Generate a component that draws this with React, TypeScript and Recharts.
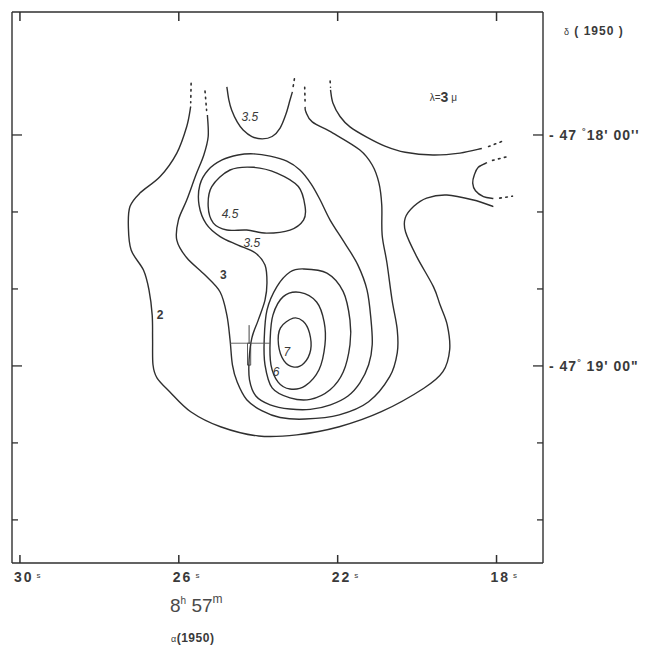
import React from "react";
import {
  ComposedChart,
  Customized,
  Line,
  ReferenceArea,
  ReferenceDot,
  ReferenceLine,
  XAxis,
  YAxis,
} from "recharts";

/**
 * 3 micron contour map. RA seconds past 8h57m on x (reversed), declination
 * on y as arcseconds past -47°17' (so 60 = -47°18'00", growing southwards).
 */
type Pt = { ra: number; dec: number };

const raTicks = [18, 22, 26, 30];
const decTicks = [60, 80, 100, 120, 140, 160];
const raDomain = [16.83, 30.2];
const decDomain = [28.05, 171.2];

// level 2, the outermost open contour
const contour2: Pt[] = [
  { ra: 25.7, dec: 52.6 }, { ra: 25.8, dec: 57.8 }, { ra: 26.05, dec: 64.7 },
  { ra: 26.47, dec: 70.8 }, { ra: 26.98, dec: 75.1 }, { ra: 27.23, dec: 78.6 },
  { ra: 27.27, dec: 83.8 }, { ra: 27.2, dec: 89.9 }, { ra: 26.89, dec: 95.1 },
  { ra: 26.75, dec: 100.3 }, { ra: 26.67, dec: 106.8 }, { ra: 26.66, dec: 113.2 },
  { ra: 26.65, dec: 119.7 }, { ra: 26.55, dec: 123.1 }, { ra: 26.23, dec: 126.7 },
  { ra: 25.7, dec: 131.9 }, { ra: 24.95, dec: 135.8 }, { ra: 23.99, dec: 138.2 },
  { ra: 23.03, dec: 137.9 }, { ra: 21.96, dec: 135.8 }, { ra: 20.9, dec: 131.9 },
  { ra: 19.83, dec: 125.8 }, { ra: 19.35, dec: 121.5 }, { ra: 19.18, dec: 115.8 },
  { ra: 19.24, dec: 109.4 }, { ra: 19.42, dec: 104.2 }, { ra: 19.59, dec: 99.4 },
  { ra: 20.01, dec: 91.6 }, { ra: 20.29, dec: 85.2 }, { ra: 20.3, dec: 81.6 },
  { ra: 20.09, dec: 78.6 }, { ra: 19.76, dec: 76.4 }, { ra: 19.25, dec: 75.6 },
  { ra: 18.58, dec: 76.9 }, { ra: 18.08, dec: 78.6 },
];
const contour2North: Pt[] = [
  { ra: 22.18, dec: 48.3 }, { ra: 22.12, dec: 51.7 }, { ra: 21.94, dec: 55.2 },
  { ra: 21.69, dec: 57.9 }, { ra: 21.28, dec: 60.5 }, { ra: 20.81, dec: 62.9 },
  { ra: 20.3, dec: 64.5 }, { ra: 19.6, dec: 65.2 }, { ra: 18.92, dec: 64.7 },
  { ra: 18.37, dec: 63.5 },
];
const contourEdge: Pt[] = [
  { ra: 18.24, dec: 67.2 }, { ra: 18.46, dec: 68.4 }, { ra: 18.56, dec: 70.4 },
  { ra: 18.6, dec: 72.5 }, { ra: 18.53, dec: 74.5 }, { ra: 18.33, dec: 76.0 },
  { ra: 18.08, dec: 76.5 },
];

// level 3
const contour3: Pt[] = [
  { ra: 25.28, dec: 54.8 }, { ra: 25.26, dec: 60.4 }, { ra: 25.37, dec: 65.2 },
  { ra: 25.57, dec: 70.4 }, { ra: 25.8, dec: 76.9 }, { ra: 26.01, dec: 82.1 },
  { ra: 26.05, dec: 87.3 }, { ra: 25.8, dec: 91.9 }, { ra: 25.34, dec: 96.4 },
  { ra: 24.96, dec: 100.8 }, { ra: 24.79, dec: 106.8 }, { ra: 24.71, dec: 113.2 },
  { ra: 24.65, dec: 119.7 }, { ra: 24.53, dec: 124.2 }, { ra: 24.29, dec: 128.8 },
  { ra: 23.9, dec: 131.7 }, { ra: 23.45, dec: 133.4 }, { ra: 22.82, dec: 133.8 },
  { ra: 21.96, dec: 132.7 }, { ra: 21.22, dec: 129.3 }, { ra: 20.69, dec: 122.8 },
  { ra: 20.5, dec: 116.6 }, { ra: 20.5, dec: 110.6 }, { ra: 20.63, dec: 102.9 },
  { ra: 20.76, dec: 93.2 }, { ra: 20.88, dec: 86.0 }, { ra: 20.89, dec: 78.2 },
  { ra: 20.96, dec: 72.5 }, { ra: 21.13, dec: 67.8 }, { ra: 21.44, dec: 63.9 },
  { ra: 22.12, dec: 59.5 }, { ra: 22.64, dec: 56.6 }, { ra: 22.8, dec: 54.0 },
  { ra: 22.82, dec: 52.7 },
];

// level 3.5: the northern lobe and the big loop round both peaks
const contour35North: Pt[] = [
  { ra: 24.79, dec: 47.5 }, { ra: 24.74, dec: 50.9 }, { ra: 24.67, dec: 53.5 },
  { ra: 24.53, dec: 56.6 }, { ra: 24.38, dec: 58.7 }, { ra: 24.16, dec: 60.4 },
  { ra: 23.9, dec: 61.0 }, { ra: 23.65, dec: 60.4 }, { ra: 23.45, dec: 58.2 },
  { ra: 23.3, dec: 54.5 }, { ra: 23.2, dec: 50.9 }, { ra: 23.14, dec: 48.8 },
];
const contour35: Pt[] = [
  { ra: 24.12, dec: 64.9 }, { ra: 23.7, dec: 65.5 }, { ra: 23.28, dec: 66.8 },
  { ra: 22.95, dec: 69.1 }, { ra: 22.67, dec: 72.7 }, { ra: 22.44, dec: 76.9 },
  { ra: 22.19, dec: 82.1 }, { ra: 21.81, dec: 88.3 }, { ra: 21.49, dec: 93.8 },
  { ra: 21.26, dec: 100.3 }, { ra: 21.16, dec: 108.1 }, { ra: 21.13, dec: 114.5 },
  { ra: 21.22, dec: 119.7 }, { ra: 21.44, dec: 124.4 }, { ra: 21.74, dec: 127.8 },
  { ra: 22.18, dec: 130.1 }, { ra: 22.69, dec: 131.3 }, { ra: 23.2, dec: 131.2 },
  { ra: 23.7, dec: 130.1 }, { ra: 24.06, dec: 127.8 }, { ra: 24.22, dec: 123.6 },
  { ra: 24.23, dec: 118.4 }, { ra: 24.16, dec: 112.7 }, { ra: 24.0, dec: 108.1 },
  { ra: 23.83, dec: 102.9 }, { ra: 23.78, dec: 98.4 }, { ra: 23.83, dec: 93.8 },
  { ra: 24.08, dec: 90.6 }, { ra: 24.51, dec: 88.6 }, { ra: 24.96, dec: 86.4 },
  { ra: 25.31, dec: 83.1 }, { ra: 25.49, dec: 78.2 }, { ra: 25.47, dec: 73.0 },
  { ra: 25.26, dec: 69.1 }, { ra: 24.91, dec: 66.5 }, { ra: 24.51, dec: 65.2 },
];

// level 4.5, the northern peak
const contour45: Pt[] = [
  { ra: 25.17, dec: 73.4 }, { ra: 24.71, dec: 69.1 }, { ra: 24.12, dec: 68.4 },
  { ra: 23.53, dec: 69.9 }, { ra: 22.99, dec: 73.4 }, { ra: 22.82, dec: 78.6 },
  { ra: 22.86, dec: 82.1 }, { ra: 23.2, dec: 84.7 }, { ra: 23.79, dec: 85.5 },
  { ra: 24.29, dec: 84.7 }, { ra: 24.79, dec: 84.7 }, { ra: 25.13, dec: 82.9 },
  { ra: 25.26, dec: 78.6 },
];

// levels 5, 6 and 7 round the southern peak
const contour5: Pt[] = [
  { ra: 23.53, dec: 99.4 }, { ra: 23.2, dec: 95.6 }, { ra: 22.86, dec: 94.8 },
  { ra: 22.27, dec: 95.9 }, { ra: 21.86, dec: 100.7 }, { ra: 21.69, dec: 108.1 },
  { ra: 21.69, dec: 114.5 }, { ra: 21.86, dec: 121.6 }, { ra: 22.19, dec: 126.2 },
  { ra: 22.69, dec: 128.7 }, { ra: 23.2, dec: 128.3 }, { ra: 23.65, dec: 125.7 },
  { ra: 23.83, dec: 119.7 }, { ra: 23.85, dec: 113.2 }, { ra: 23.78, dec: 105.5 },
];
const contour6: Pt[] = [
  { ra: 23.37, dec: 102.0 }, { ra: 22.95, dec: 100.9 }, { ra: 22.53, dec: 103.4 },
  { ra: 22.34, dec: 108.6 }, { ra: 22.32, dec: 114.5 }, { ra: 22.47, dec: 121.0 },
  { ra: 22.82, dec: 125.2 }, { ra: 23.2, dec: 126.0 }, { ra: 23.5, dec: 124.2 },
  { ra: 23.68, dec: 119.7 }, { ra: 23.7, dec: 113.2 }, { ra: 23.63, dec: 106.8 },
];
const contour7: Pt[] = [
  { ra: 23.12, dec: 107.6 }, { ra: 22.87, dec: 108.4 }, { ra: 22.71, dec: 111.4 },
  { ra: 22.68, dec: 115.8 }, { ra: 22.85, dec: 119.3 }, { ra: 23.1, dec: 120.3 },
  { ra: 23.35, dec: 118.7 }, { ra: 23.49, dec: 114.5 }, { ra: 23.44, dec: 110.1 },
];

// dotted continuations where the map runs out
const dotted: Pt[][] = [
  [{ ra: 25.69, dec: 46.6 }, { ra: 25.7, dec: 51.6 }],
  [{ ra: 25.34, dec: 48.6 }, { ra: 25.3, dec: 53.6 }],
  [{ ra: 22.83, dec: 47.6 }, { ra: 22.82, dec: 51.6 }],
  [{ ra: 23.12, dec: 47.4 }, { ra: 23.08, dec: 44.8 }],
  [{ ra: 22.19, dec: 46.0 }, { ra: 22.18, dec: 47.6 }],
  [{ ra: 18.2, dec: 63.0 }, { ra: 17.82, dec: 61.5 }],
  [{ ra: 18.1, dec: 66.6 }, { ra: 17.72, dec: 65.6 }],
  [{ ra: 17.92, dec: 76.4 }, { ra: 17.6, dec: 75.9 }],
];

const levelLabels = [
  { text: "3.5", ra: 24.21, dec: 55.3, italic: true },
  { text: "4.5", ra: 24.71, dec: 80.5, italic: true },
  { text: "3.5", ra: 24.16, dec: 88.1, italic: true },
  { text: "3", ra: 24.88, dec: 96.4, italic: false },
  { text: "2", ra: 26.47, dec: 106.8, italic: false },
  { text: "7", ra: 23.28, dec: 116.3, italic: true },
  { text: "6", ra: 23.55, dec: 121.5, italic: true },
];

// pointing cross near the southern peak
const crossRa = [24.71, 23.7];
const crossDec = 114.1;
const barRa = 24.23;
const barDec = [109.4, 119.8];

const CHART_H = 648;
const MARGIN = { top: 0, right: 120, bottom: 55, left: 10 };
const TOP_AXIS_H = 12;
const BOTTOM_AXIS_H = 30;
// height of the plot box, so the bottom ticks can mirror themselves at the top
const PLOT_H = CHART_H - MARGIN.top - MARGIN.bottom - TOP_AXIS_H - BOTTOM_AXIS_H;

const INK = "#2f2f2f";
const TEXT = "#3a3a3a";
const FONT = "'Liberation Sans', Arial, sans-serif";

// Catmull-Rom curve factory, closed or open, handed to Line's `type`.
function catmull(closed: boolean) {
  return (context: any) => {
    let pts: number[][] = [];
    return {
      areaStart() {},
      areaEnd() {},
      lineStart() {
        pts = [];
      },
      point(x: number, y: number) {
        pts.push([+x, +y]);
      },
      lineEnd() {
        const n = pts.length;
        if (!n) return;
        const at = (i: number) =>
          closed ? pts[(i + n) % n] : pts[Math.max(0, Math.min(n - 1, i))];
        context.moveTo(pts[0][0], pts[0][1]);
        const segs = closed ? n : n - 1;
        for (let i = 0; i < segs; i++) {
          const p0 = at(i - 1);
          const p1 = at(i);
          const p2 = at(i + 1);
          const p3 = at(i + 2);
          context.bezierCurveTo(
            p1[0] + (p2[0] - p0[0]) / 6,
            p1[1] + (p2[1] - p0[1]) / 6,
            p2[0] - (p3[0] - p1[0]) / 6,
            p2[1] - (p3[1] - p1[1]) / 6,
            p2[0],
            p2[1],
          );
        }
        if (closed) context.closePath();
      },
    };
  };
}
const openCurve = catmull(false);
const closedCurve = catmull(true);

function BottomTick({ x, y, payload }: any) {
  const top = y - PLOT_H;
  return (
    <g>
      <line x1={x} y1={y} x2={x} y2={y - 8} stroke={INK} strokeWidth={1.5} />
      <line x1={x} y1={top} x2={x} y2={top + 9} stroke={INK} strokeWidth={1.5} />
      <text
        x={x - 6}
        y={y + 19}
        fill={TEXT}
        fontFamily={FONT}
        fontSize={14}
        fontWeight="bold"
        letterSpacing={2}
      >
        {payload.value}
        <tspan fontSize={8} fontWeight="normal" dx={3} dy={-4}>
          s
        </tspan>
      </text>
    </g>
  );
}

function LeftTick({ x, y, payload }: any) {
  const len = payload.value % 60 === 0 ? 10 : 6;
  return <line x1={x} y1={y} x2={x + len} y2={y} stroke={INK} strokeWidth={1.3} />;
}

function RightTick({ x, y, payload }: any) {
  const major = payload.value % 60 === 0;
  const len = major ? 10 : 6;
  const minute = 17 + payload.value / 60;
  return (
    <g>
      <line x1={x} y1={y} x2={x - len} y2={y} stroke={INK} strokeWidth={1.3} />
      {major && (
        <text
          x={x + 6}
          y={y + 5}
          fill={TEXT}
          fontFamily={FONT}
          fontSize={14}
          fontWeight="bold"
          letterSpacing={1}
        >
          {minute === 18 ? "- 47 " : "- 47"}
          <tspan fontSize={9} dy={-6}>
            °
          </tspan>
          <tspan dy={6}>{minute === 18 ? `${minute}' 00''` : ` ${minute}' 00"`}</tspan>
        </text>
      )}
    </g>
  );
}

function LevelLabel({ cx, cy, text, italic }: any) {
  return (
    <text
      x={cx}
      y={cy}
      textAnchor="middle"
      dominantBaseline="central"
      fill={TEXT}
      fontFamily={FONT}
      fontSize={12}
      fontStyle={italic ? "italic" : "normal"}
      fontWeight={italic ? "normal" : "bold"}
    >
      {text}
    </text>
  );
}

function WaveLabel({ cx, cy }: any) {
  return (
    <text x={cx} y={cy} textAnchor="middle" dominantBaseline="central" fill={TEXT} fontFamily={FONT}>
      <tspan fontSize={10}>λ=</tspan>
      <tspan fontSize={14} fontWeight="bold">
        3
      </tspan>
      <tspan fontSize={10}> μ</tspan>
    </text>
  );
}

function Captions() {
  return (
    <g fontFamily={FONT} fill={TEXT}>
      <text x={564} y={35} fontSize={12} fontWeight="bold" letterSpacing={1}>
        <tspan fontSize={9} fontWeight="normal">δ</tspan> ( 1950 )
      </text>
      <text x={170} y={612} fontSize={19} fill="#4a4a4a">
        8<tspan fontSize={10} dy={-8}>h</tspan>
        <tspan dy={8}> 57</tspan>
        <tspan fontSize={12} dy={-9}>m</tspan>
      </text>
      <text x={171} y={642} fontSize={12} fontWeight="bold" letterSpacing={0.5}>
        <tspan fontSize={9} fontWeight="normal">α</tspan>(1950)
      </text>
    </g>
  );
}

const lineProps = {
  dataKey: "dec",
  stroke: INK,
  strokeWidth: 1.4,
  dot: false,
  activeDot: false,
  isAnimationActive: false,
  legendType: "none" as const,
};

const axisLine = { stroke: INK, strokeWidth: 1.4 };

export default function App() {
  const solidOpen = [contour2, contour2North, contourEdge, contour3, contour35North];
  const solidClosed = [contour35, contour45, contour5, contour6, contour7];
  return (
    <div style={{ position: "absolute", left: 0, top: 0, width: 665, height: CHART_H, background: "#fff" }}>
      <ComposedChart width={665} height={CHART_H} margin={MARGIN}>
        <XAxis
          xAxisId={0}
          dataKey="ra"
          type="number"
          domain={raDomain}
          reversed
          allowDataOverflow
          ticks={raTicks}
          interval={0}
          height={BOTTOM_AXIS_H}
          tickSize={0}
          tickMargin={0}
          tickLine={false}
          axisLine={axisLine}
          tick={<BottomTick />}
        />
        <XAxis
          xAxisId="top"
          orientation="top"
          dataKey="ra"
          type="number"
          domain={raDomain}
          reversed
          allowDataOverflow
          height={TOP_AXIS_H}
          tick={false}
          tickLine={false}
          axisLine={axisLine}
        />
        <YAxis
          yAxisId={0}
          type="number"
          domain={decDomain}
          reversed
          allowDataOverflow
          ticks={decTicks}
          interval={0}
          width={2}
          tickSize={0}
          tickMargin={0}
          tickLine={false}
          axisLine={axisLine}
          tick={<LeftTick />}
        />
        <YAxis
          yAxisId="right"
          orientation="right"
          type="number"
          domain={decDomain}
          reversed
          allowDataOverflow
          ticks={decTicks}
          interval={0}
          width={2}
          tickSize={0}
          tickMargin={0}
          tickLine={false}
          axisLine={axisLine}
          tick={<RightTick />}
        />

        {solidOpen.map((d, i) => (
          <Line key={`o${i}`} data={d} type={openCurve as any} {...lineProps} />
        ))}
        {solidClosed.map((d, i) => (
          <Line key={`c${i}`} data={d} type={closedCurve as any} {...lineProps} />
        ))}
        {dotted.map((d, i) => (
          <Line
            key={`d${i}`}
            data={d}
            type="linear"
            {...lineProps}
            strokeWidth={1.6}
            strokeDasharray="1.6 4.5"
            strokeLinecap="round"
          />
        ))}

        <ReferenceLine
          segment={[
            { x: crossRa[0], y: crossDec },
            { x: crossRa[1], y: crossDec },
          ]}
          stroke="#555"
          strokeWidth={0.9}
        />
        <ReferenceLine
          segment={[
            { x: barRa, y: barDec[0] },
            { x: barRa, y: crossDec },
          ]}
          stroke="#444"
          strokeWidth={1}
        />
        <ReferenceArea
          x1={barRa + 0.04}
          x2={barRa - 0.04}
          y1={crossDec}
          y2={barDec[1]}
          fill="none"
          fillOpacity={0}
          stroke="#444"
          strokeWidth={0.9}
        />

        {levelLabels.map((l, i) => (
          <ReferenceDot
            key={`l${i}`}
            x={l.ra}
            y={l.dec}
            r={0}
            shape={(p: any) => <LevelLabel cx={p.cx} cy={p.cy} text={l.text} italic={l.italic} />}
          />
        ))}
        <ReferenceDot x={19.34} y={50.1} r={0} shape={(p: any) => <WaveLabel cx={p.cx} cy={p.cy} />} />

        <Customized component={<Captions />} />
      </ComposedChart>
    </div>
  );
}
